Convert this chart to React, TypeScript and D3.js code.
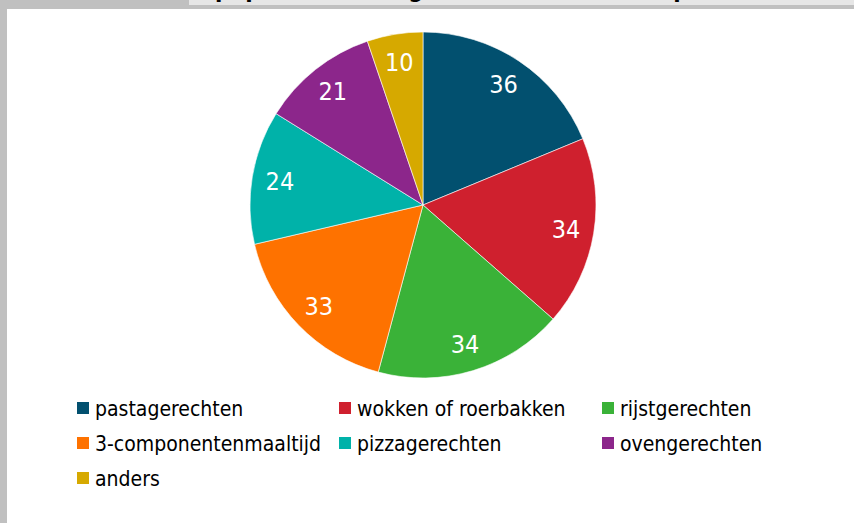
import React, { useEffect, useRef } from 'react';
import * as d3 from 'd3';

const categories = [
  'pastagerechten',
  'wokken of roerbakken',
  'rijstgerechten',
  '3-componentenmaaltijd',
  'pizzagerechten',
  'ovengerechten',
  'anders',
];
const values = [36, 34, 34, 33, 24, 21, 10];
const colours = ['#02506f', '#cf202e', '#3ab238', '#fe7200', '#00b2a9', '#8c268b', '#d6a900'];

const W = 854;
const H = 523;
const FONT = "'Liberation Sans Narrow', 'DejaVu Sans Condensed', 'Roboto', sans-serif";

export default function App() {
  const svgRef = useRef<SVGSVGElement>(null);

  useEffect(() => {
    document.body.style.margin = '0';
    const svg = d3.select(svgRef.current);
    svg.selectAll('*').remove();

    svg.append('rect').attr('width', W).attr('height', H).attr('fill', '#fff');

    // frame
    svg.append('rect').attr('x', 0).attr('y', 0).attr('width', W).attr('height', 9).attr('fill', '#c0c0c0');
    svg.append('rect').attr('x', 189).attr('y', 0).attr('width', W - 189).attr('height', 5).attr('fill', '#e6e6e6');
    svg.append('rect').attr('x', 0).attr('y', 0).attr('width', 7).attr('height', H).attr('fill', '#c0c0c0');

    // title, mostly above the visible area
    svg.append('clipPath').attr('id', 'tclip')
      .append('rect').attr('x', 189).attr('y', 0).attr('width', W - 189).attr('height', 5);
    svg.append('text')
      .attr('clip-path', 'url(#tclip)')
      .attr('x', 215).attr('y', -3)
      .attr('font-family', FONT).attr('font-weight', 'bold').attr('font-size', 24)
      .attr('fill', '#000')
      .text('populaire hoofdgerechten naar soort per week');

    // pie
    const cx = 423, cy = 205, r = 173;
    const pie = d3.pie<number>().sort(null).value(d => d);
    const arcs = pie(values);
    const arc = d3.arc<d3.PieArcDatum<number>>().innerRadius(0).outerRadius(r);
    const labelArc = d3.arc<d3.PieArcDatum<number>>().innerRadius(145).outerRadius(145);

    const g = svg.append('g').attr('transform', `translate(${cx},${cy})`);
    g.selectAll('path')
      .data(arcs)
      .enter()
      .append('path')
      .attr('d', arc)
      .attr('fill', (d, i) => colours[i])
      .attr('stroke', '#fff')
      .attr('stroke-width', 0.6);

    g.selectAll('text')
      .data(arcs)
      .enter()
      .append('text')
      .attr('transform', d => `translate(${labelArc.centroid(d)})`)
      .attr('text-anchor', 'middle')
      .attr('dy', '0.36em')
      .attr('font-family', FONT)
      .attr('font-size', 25)
      .attr('fill', '#fff')
      .text(d => d.data);

    // legend
    const colX = d3.scaleOrdinal<number, number>().domain([0, 1, 2]).range([77, 339, 602]);
    const rowY = d3.scaleLinear().domain([0, 1]).range([402, 437]);
    const leg = svg.append('g')
      .selectAll('g')
      .data(categories)
      .enter()
      .append('g')
      .attr('transform', (d, i) => `translate(${colX(i % 3)},${rowY(Math.floor(i / 3))})`);
    leg.append('rect')
      .attr('width', 12).attr('height', 12)
      .attr('fill', (d, i) => colours[i]);
    leg.append('text')
      .attr('x', 18).attr('y', 14)
      .attr('font-family', FONT)
      .attr('font-size', 21)
      .attr('fill', '#000')
      .text(d => d);
  }, []);

  return (
    <svg ref={svgRef} width={W} height={H} style={{ display: 'block' }}></svg>
  );
}
